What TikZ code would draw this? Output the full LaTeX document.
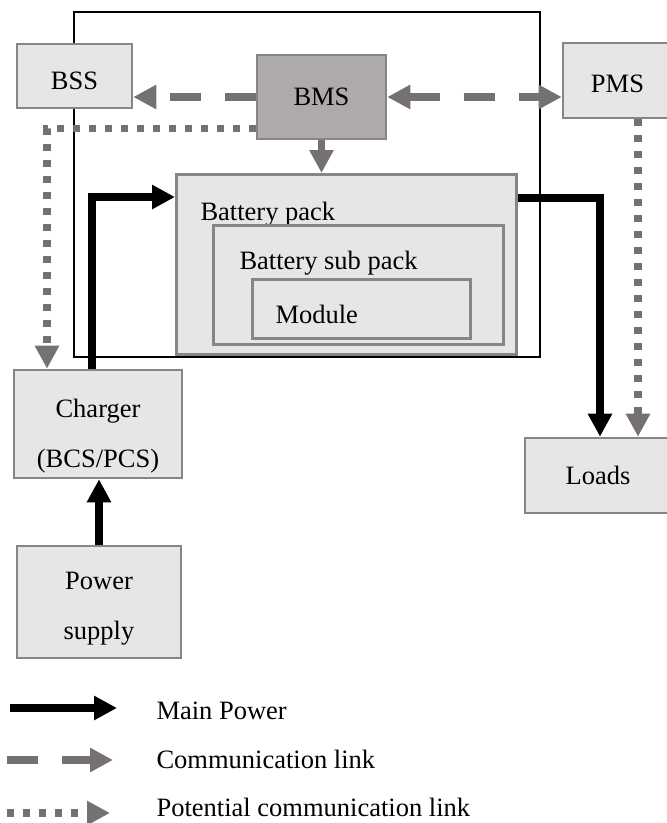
\documentclass[tikz,border=0pt]{standalone}
\usepackage{fontspec}
\setmainfont{Liberation Serif}
\usetikzlibrary{arrows.meta,positioning}
\definecolor{boxfill}{HTML}{E6E6E6}
\definecolor{boxdraw}{HTML}{868686}
\definecolor{bmsfill}{HTML}{AEAAAA}
\definecolor{linkgray}{HTML}{767171}

\begin{document}
\begin{tikzpicture}[x=1pt,y=-1pt,
	font=\fontsize{26.5}{50}\selectfont,
	block_light/.style ={rectangle, draw=boxdraw, fill=boxfill,
		line width=2.6pt, inner sep=0pt, align=center},
	block_dark/.style ={block_light, fill=bmsfill},
	block_pack/.style ={block_light, anchor=north west},
	pack_text/.style ={anchor=base west},
	line_power/.style ={draw, line width=8.5pt, -{Triangle[width=23pt,length=23pt]}},
	line_gray/.style ={draw=linkgray, line width=7.5pt, -{Triangle[width=23pt,length=23pt]}},
	line_comm/.style ={line_gray, dash pattern=on 31pt off 24pt},
	line_both/.style ={line_comm, {Triangle[width=23pt,length=23pt]}-{Triangle[width=23pt,length=23pt]}},
	line_pot/.style ={line_gray, dash pattern=on 7pt off 9pt}]
	\useasboundingbox (0,0) rectangle (667,823);
	% outer frame
	\draw[line width=1.2pt] (74,12) rectangle (540,357);
	% management systems - top row
	\node [block_light, minimum width=115pt, minimum height=64pt,
		text height=26.5pt, text depth=0pt] (bss) at (74.5,76) {BSS};
	\node [block_dark, minimum width=129pt, minimum height=84pt] (bms) at (321.5,97) {BMS};
	\node [block_light, minimum width=109pt, minimum height=75pt,
		text height=24.5pt, text depth=0pt] (pms) at (617.5,80.5) {PMS};
	% battery pack, sub pack and module
	\node [block_pack, minimum width=340pt, minimum height=180pt,
		label={[pack_text, xshift=22pt, yshift=-47pt]north west:Battery pack}] (pack) at (175,173) {};
	\node [block_pack, minimum width=290pt, minimum height=119pt,
		label={[pack_text, xshift=24pt, yshift=-45pt]north west:Battery sub pack}] (subpack) at (212,224) {};
	\node [block_pack, minimum width=218pt, minimum height=59pt,
		label={[pack_text, xshift=21pt, yshift=-45pt]north west:Module}] (module) at (251,278) {};
	% charger, power supply and loads
	\node [block_light, minimum width=168pt, minimum height=108pt,
		text height=86pt, text depth=0pt] (charger) at (98,424) {Charger\\(BCS/PCS)};
	\node [block_light, minimum width=164pt, minimum height=112pt,
		text height=74pt, text depth=0pt] (supply) at (99,602) {Power\\supply};
	\node [block_light, minimum width=146pt, minimum height=75pt] (loads) at (598,475.5) {Loads};
	% legend
	\coordinate (key_power_a) at (10,708);
	\coordinate (key_power_b) at (117,708);
	\coordinate (key_comm_a) at (7,760);
	\coordinate (key_comm_b) at (113,760);
	\coordinate (key_pot_a) at (7,813);
	\coordinate (key_pot_b) at (110,813);
	\node [anchor=base west] (key_power) at (153,719) {Main Power};
	\node [anchor=base west] (key_comm) at (153,768) {Communication link};
	\node [anchor=base west] (key_pot) at (153,816) {Potential communication link};
	% communication links
	\path[line_comm] (bms.west) -- (bms.west -| bss.east);
	\path[line_both] (bms.east) -- (bms.east -| pms.west);
	\path[line_gray] (bms.south) -- (bms.south |- pack.north);
	\path[line_pot] ([yshift=12pt]bms.south west) -| ([xshift=-51pt]charger.north);
	\path[line_pot] ([xshift=20.5pt]pms.south) -- ([xshift=20.5pt]pms.south |- loads.north);
	% main power
	\path[line_power] ([xshift=-6pt]charger.north) |- ([yshift=-24pt]pack.north west);
	\path[line_power] ([yshift=-25pt]pack.north east) -| ([xshift=2pt]loads.north);
	\path[line_power] (supply.north) -- (supply.north |- charger.south);
	% legend lines
	\path[line_power] (key_power_a) -- (key_power_b);
	\path[line_comm] (key_comm_a) -- (key_comm_b);
	\path[line_pot] (key_pot_a) -- (key_pot_b);
\end{tikzpicture}
\end{document}
